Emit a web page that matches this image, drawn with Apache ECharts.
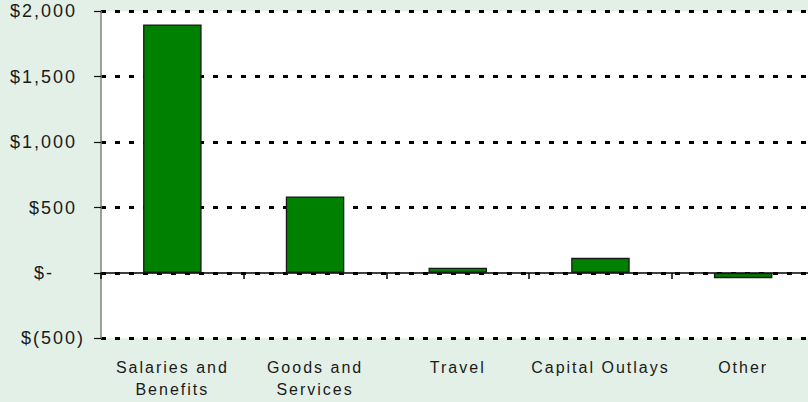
<!DOCTYPE html>
<html>
<head>
<meta charset="utf-8">
<title>Spending by category</title>
<script src="https://cdn.jsdelivr.net/npm/echarts@6/dist/echarts.min.js"></script>
<style>
  html, body { margin: 0; padding: 0; background: #e3f0e7; }
  /* svg text picks this up, gives the wide Excel-style lettering */
  #main { width: 808px; height: 402px; letter-spacing: 2px; }
</style>
</head>
<body>
<div id="main"></div>
<script>
// categories and values
var categories = ['Salaries and\nBenefits', 'Goods and\nServices', 'Travel', 'Capital Outlays', 'Other']
var amounts = [1900, 585, 40, 115, -40]
// y tick labels, from -500 up to 2000
var yTickLabels = ['$(500)', '$-', '$500', '$1,000', '$1,500', '$2,000']

var chart = echarts.init(document.getElementById('main'), null, { renderer: 'svg' })

var option = {
  backgroundColor: '#e3f0e7',
  animation: false,
  textStyle: { fontFamily: 'Liberation Sans, Arial, sans-serif' },
  grid: {
    left: 101,
    top: 11.3,
    right: -6.5,
    bottom: 63.7,
    outerBoundsMode: 'none',
    containLabel: false,
    show: true,
    backgroundColor: '#ffffff',
    borderWidth: 0
  },
  xAxis: {
    type: 'category',
    data: categories,
    axisLine: { onZero: true, lineStyle: { color: '#000', width: 1.5 } },
    axisTick: { show: true, length: 6, lineStyle: { color: '#000', width: 1.5 } },
    // labels stay under the plot bottom
    axisLabel: {
      margin: 18,
      fontSize: 16,
      lineHeight: 22,
      color: '#1a1a1a',
      interval: 0
    }
  },
  yAxis: {
    type: 'value',
    min: -500,
    max: 2000,
    interval: 500,
    axisLine: { show: true, lineStyle: { color: '#808080', width: 1.5 } },
    axisTick: { show: true, length: 7, lineStyle: { color: '#111', width: 1.2 } },
    splitLine: { show: true, lineStyle: { color: '#000', width: 3, type: [5, 9] } },
    axisLabel: {
      margin: 16,
      fontSize: 18,
      color: '#1a1a1a',
      formatter: function (val, idx) {
        var s = yTickLabels[idx]
        if (val === 0) return '{z|' + s + '}'
        if (val < 0) return '{n|' + s + '}'
        return '{p|' + s + '}'
      },
      rich: {
        p: { fontSize: 18, color: '#1a1a1a', padding: [0, 8, 0, 0] },
        z: { fontSize: 18, color: '#1a1a1a', padding: [0, 31, 0, 0] },
        n: { fontSize: 18, color: '#1a1a1a' }
      }
    }
  },
  series: [{
    type: 'bar',
    data: amounts,
    barWidth: '41%',
    itemStyle: { color: '#008000', borderColor: '#1a1a1a', borderWidth: 1.3 }
  }]
}
chart.setOption(option)
</script>
</body>
</html>
